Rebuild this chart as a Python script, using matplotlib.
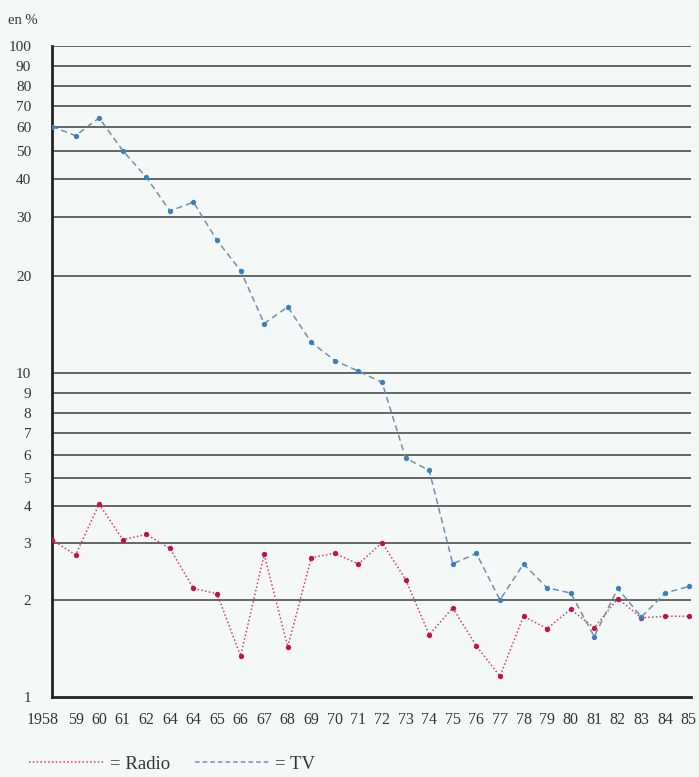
import numpy as np
import matplotlib
matplotlib.use("Agg")
import matplotlib.pyplot as plt
from matplotlib.lines import Line2D

# data (percent)
years = list(range(1958, 1986))
year_labels = ["1958", "59", "60", "61", "62", "64", "64", "65", "66", "67", "68", "69",
               "70", "71", "72", "73", "74", "75", "76", "77", "78", "79", "80", "81",
               "82", "83", "84", "85"]
tv = [60, 56, 64, 50, 40.5, 31.4, 33.5, 25.5, 20.7, 14.2, 16.0, 12.4, 10.9, 10.1,
      9.5, 5.85, 5.3, 2.58, 2.78, 2.0, 2.58, 2.18, 2.1, 1.54, 2.17, 1.77, 2.1, 2.2]
radio = [3.07, 2.75, 4.05, 3.07, 3.2, 2.88, 2.17, 2.09, 1.34, 2.76, 1.43, 2.70, 2.78,
         2.58, 3.0, 2.31, 1.56, 1.89, 1.44, 1.16, 1.78, 1.63, 1.87, 1.64, 2.02, 1.76,
         1.78, 1.78]
grid_values = [1, 2, 3, 4, 5, 6, 7, 8, 9, 10, 20, 30, 40, 50, 60, 70, 80, 90, 100]

# the printed axis is not a clean log scale: height of each gridline (px above the 1-line)
scale_pos = np.array([0, 97, 154.3, 191.3, 219.3, 242, 263.7, 284.3, 304.3, 324.3,
                      421.3, 480, 518, 546.3, 570.3, 591, 611.3, 631.3, 651])
scale_log = np.log10(grid_values)


def fwd(v):
    v = np.clip(np.asarray(v, dtype=float), 1e-3, None)
    return np.interp(np.log10(v), scale_log, scale_pos,
                     left=-100, right=800)


def inv(p):
    return 10 ** np.interp(p, scale_pos, scale_log)


plt.rcParams["font.family"] = ["Liberation Serif", "DejaVu Serif"]
bg = "#f4f9f7"
txt = "#333333"

fig = plt.figure(figsize=(6.99, 7.77), dpi=100, facecolor=bg)
ax = fig.add_axes([0.0744, 0.103, 0.914, 0.838])
ax.set_facecolor(bg)

ax.set_yscale("function", functions=(fwd, inv))
ax.set_ylim(1, 100)
ax.set_xlim(1958, 1985.1)

for g in grid_values[1:]:
    ax.axhline(g, color="#5a5a5a", lw=1.3, zorder=1)

ax.plot(years, radio, color="#d83a62", lw=1.1, ls=(0, (1, 1.5)),
        marker="o", ms=2.8, mfc="#c8123e", mec="#c8123e", zorder=3)
ax.plot(years, tv, color="#6f8fae", lw=1.1, ls=(0, (4, 2.5)),
        marker="o", ms=2.8, mfc="#3a80c0", mec="#3a80c0", zorder=3)

for s in ["top", "right"]:
    ax.spines[s].set_visible(False)
for s in ["left", "bottom"]:
    ax.spines[s].set_linewidth(2)
    ax.spines[s].set_color("#222222")

ax.set_yticks(grid_values)
ax.set_yticklabels([str(g) for g in grid_values])
ax.tick_params(axis="y", length=0, pad=15, labelsize=11, labelcolor=txt)
ax.yaxis.set_minor_locator(matplotlib.ticker.NullLocator())

# first year label sits left of the corner, so it is placed by hand
ax.set_xticks(years)
ax.set_xticklabels([""] + year_labels[1:])
ax.set_xticks(years[1:], minor=True)
ax.tick_params(axis="x", which="major", length=0, pad=11, labelsize=11.5,
               labelcolor=txt)
ax.tick_params(axis="x", which="minor", direction="inout", length=12, width=1.3,
               color="#222222")
ax.annotate(year_labels[0], xy=(years[0], 0), xycoords=ax.get_xaxis_transform(),
            xytext=(-6.5, -11), textcoords="offset points", ha="center", va="top",
            fontsize=11.5, color=txt, annotation_clip=False)

fig.text(0.012, 0.974, "en %", fontsize=10.5, color=txt, va="center")

h_radio = Line2D([], [], color="#d83a62", lw=1.1, ls=(0, (1, 1.5)))
h_tv = Line2D([], [], color="#6f8fae", lw=1.1, ls=(0, (3, 2)))
fig.legend([h_radio, h_tv], ["= Radio", "= TV"], loc="center left",
           bbox_to_anchor=(0.018, 0.0165), ncol=2, frameon=False, fontsize=13.5,
           handlelength=4.0, handletextpad=0.3, columnspacing=1.3,
           labelcolor=txt)

fig.savefig("out.png", dpi=100, facecolor=bg)
